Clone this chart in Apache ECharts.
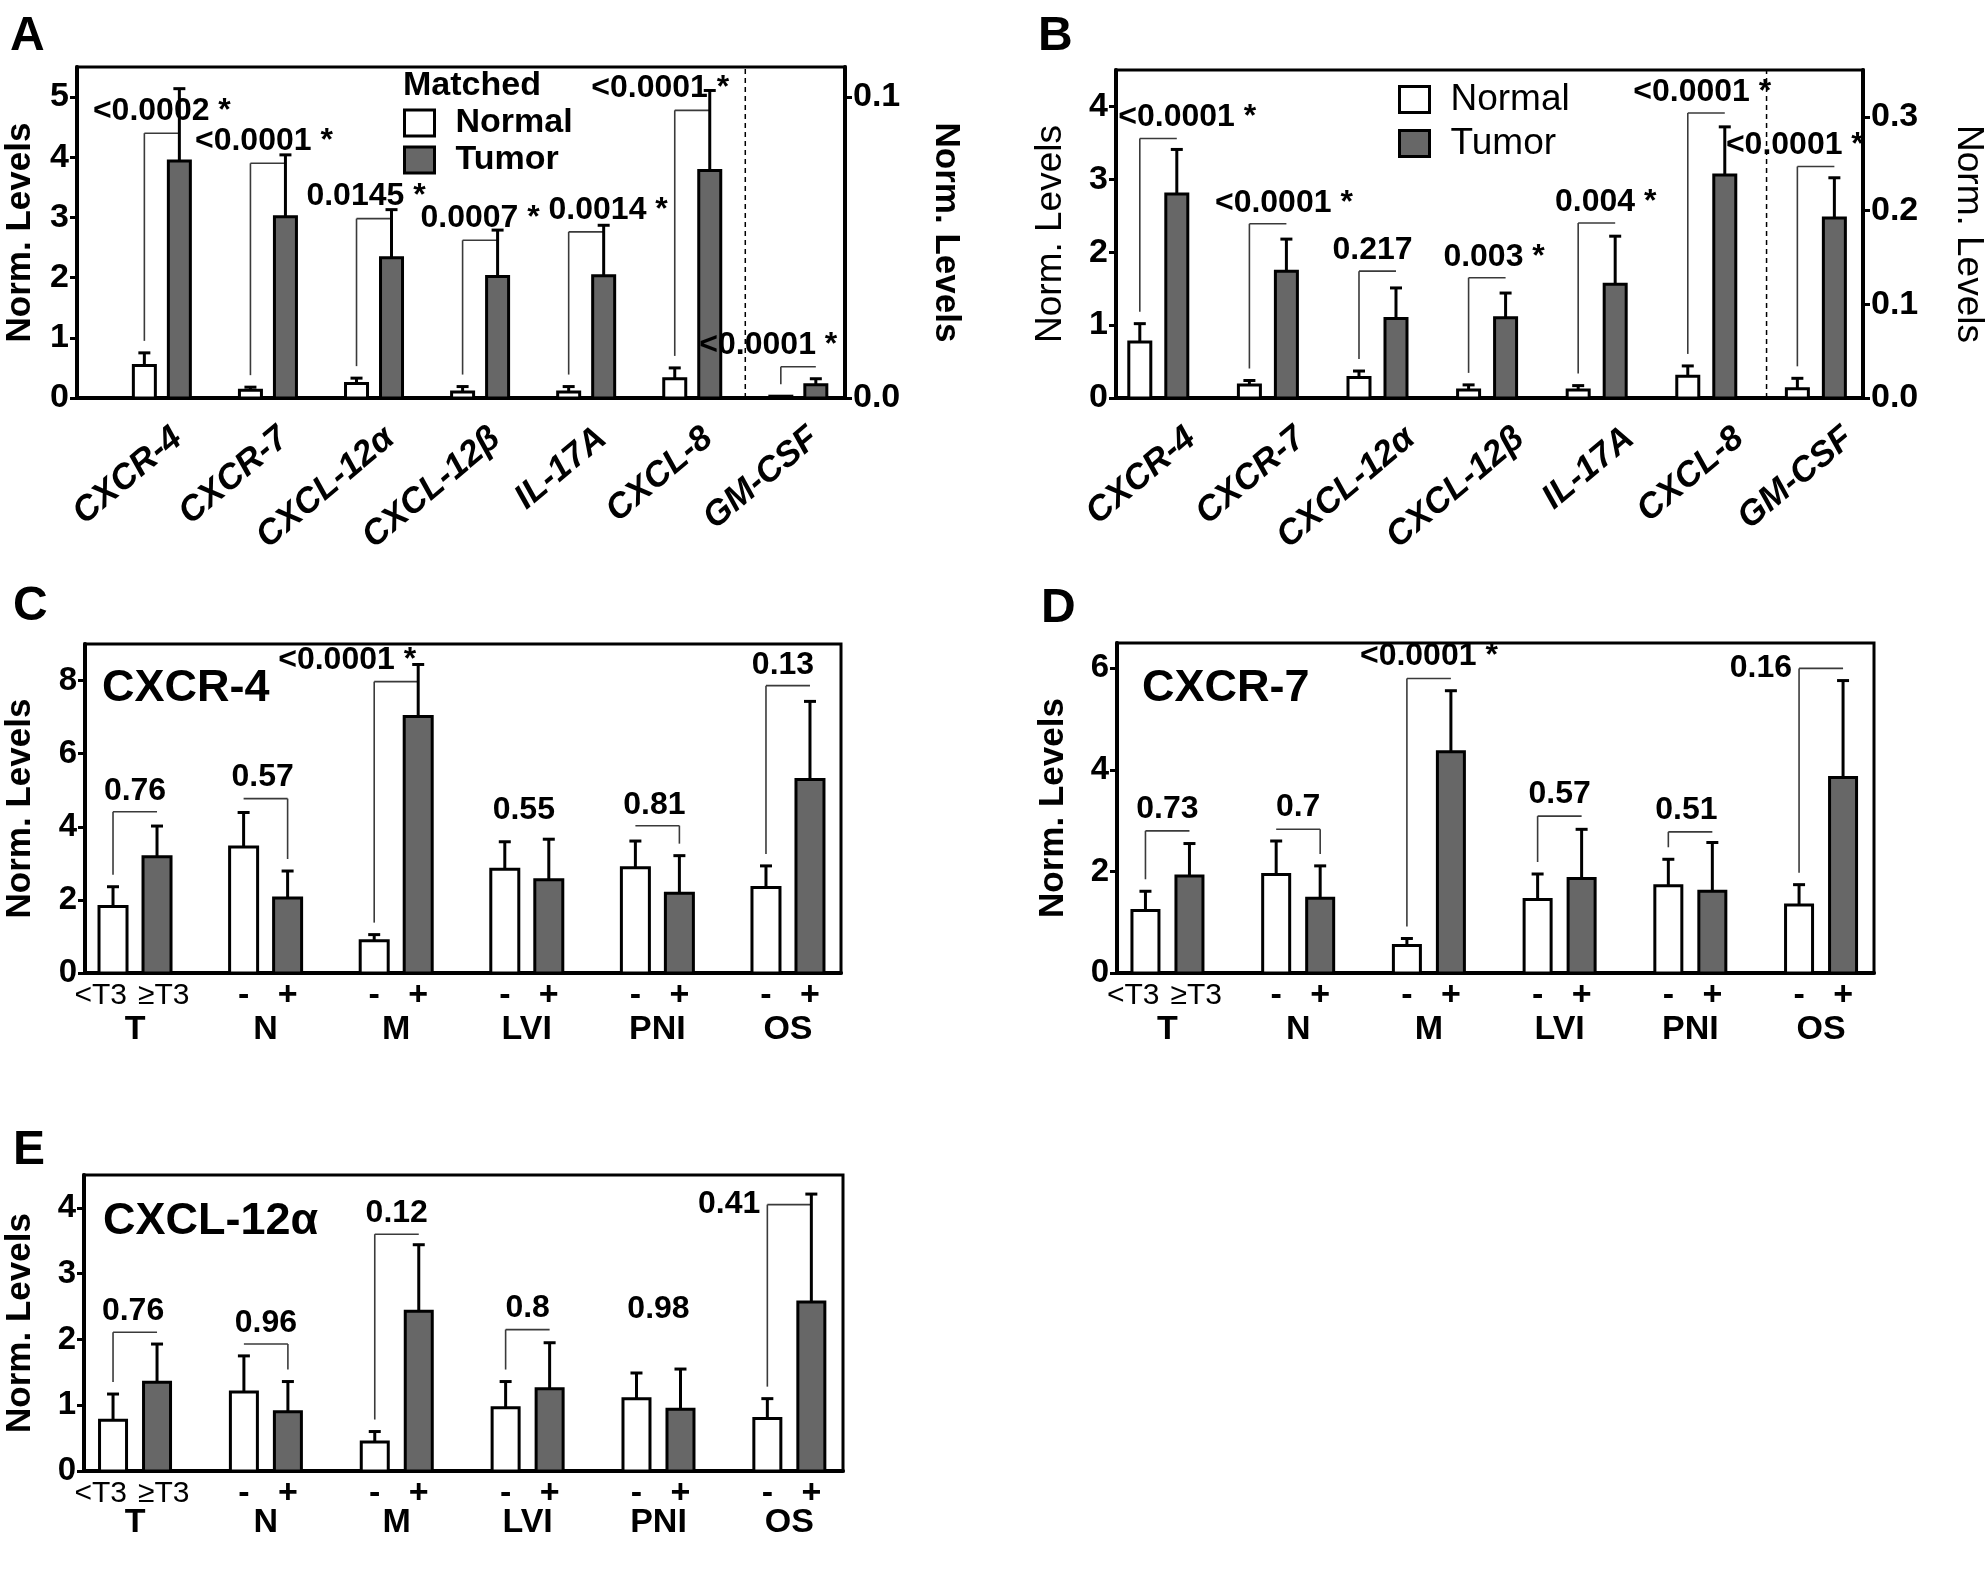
<!DOCTYPE html>
<html>
<head>
<meta charset="utf-8">
<script src="https://cdn.jsdelivr.net/npm/echarts@6/dist/echarts.min.js"></script>
<style>
html, body { margin: 0; padding: 0; background: #fff; }
#chart { width: 1988px; height: 1587px; }
</style>
</head>
<body>
<div id="chart"></div>
<script>
(function() {
  var FONT = '"Liberation Sans", Arial, Helvetica, sans-serif';
  var TUMOR_FILL = '#676767';

  // --- shared categories ---
  var abCats = ['CXCR-4', 'CXCR-7', 'CXCL-12α', 'CXCL-12β', 'IL-17A', 'CXCL-8', 'GM-CSF'];
  var cdeGroups = ['T', 'N', 'M', 'LVI', 'PNI', 'OS'];
  var cdeSubs = [['<T3', '≥T3'], ['-', '+'], ['-', '+'], ['-', '+'], ['-', '+'], ['-', '+']];

  // --- A: matched (GM-CSF on right axis) ---
  var aNormal = [0.54, 0.13, 0.24, 0.10, 0.10, 0.32, 0.0006];
  var aNormalSem = [0.21, 0.05, 0.09, 0.09, 0.09, 0.18, 0];
  var aTumor = [3.94, 3.01, 2.33, 2.02, 2.03, 3.78, 0.0044];
  var aTumorSem = [1.20, 1.03, 0.80, 0.77, 0.84, 1.33, 0.0020];
  var aBracket = [4.40, 3.90, 2.98, 2.62, 2.76, 4.78, 0.0104];
  var aP = ['<0.0002 *', '<0.0001 *', '0.0145 *', '0.0007 *', '0.0014 *', '<0.0001 *', '<0.0001 *'];

  // --- B: all (GM-CSF on right axis) ---
  var bNormal = [0.77, 0.18, 0.28, 0.11, 0.11, 0.30, 0.010];
  var bNormalSem = [0.25, 0.06, 0.09, 0.07, 0.06, 0.14, 0.011];
  var bTumor = [2.80, 1.74, 1.09, 1.10, 1.56, 3.06, 0.192];
  var bTumorSem = [0.61, 0.44, 0.42, 0.34, 0.66, 0.66, 0.043];
  var bBracket = [3.56, 2.39, 1.74, 1.65, 2.40, 3.91, 0.247];
  var bP = ['<0.0001 *', '<0.0001 *', '0.217', '0.003 *', '0.004 *', '<0.0001 *', '<0.0001 *'];

  // --- C: CXCR-4 ---
  var cNormal = [1.82, 3.45, 0.88, 2.84, 2.88, 2.34];
  var cNormalSem = [0.54, 0.94, 0.17, 0.75, 0.73, 0.59];
  var cTumor = [3.18, 2.05, 7.02, 2.55, 2.18, 5.29];
  var cTumorSem = [0.84, 0.74, 1.42, 1.11, 1.03, 2.14];
  var cBracket = [4.41, 4.77, 7.97, 3.89, 4.03, 7.86];
  var cP = ['0.76', '0.57', '<0.0001 *', '0.55', '0.81', '0.13'];

  // --- D: CXCR-7 ---
  var dNormal = [1.23, 1.94, 0.54, 1.45, 1.72, 1.34];
  var dNormalSem = [0.38, 0.66, 0.14, 0.50, 0.52, 0.40];
  var dTumor = [1.91, 1.47, 4.36, 1.86, 1.61, 3.85];
  var dTumorSem = [0.64, 0.64, 1.20, 0.97, 0.96, 1.91];
  var dBracket = [2.80, 2.83, 5.80, 3.09, 2.78, 6.00];
  var dP = ['0.73', '0.7', '<0.0001 *', '0.57', '0.51', '0.16'];

  // --- E: CXCL-12α ---
  var eNormal = [0.77, 1.20, 0.44, 0.96, 1.10, 0.80];
  var eNormalSem = [0.40, 0.55, 0.16, 0.40, 0.39, 0.30];
  var eTumor = [1.35, 0.90, 2.43, 1.25, 0.94, 2.57];
  var eTumorSem = [0.58, 0.46, 1.01, 0.70, 0.61, 1.64];
  var eBracket = [2.11, 1.93, 3.60, 2.15, 2.14, 4.05];
  var eP = ['0.76', '0.96', '0.12', '0.8', '0.98', '0.41'];

  // panel layout (leg: which side the bracket drops to, '-' = label only)
  var panels = [
    { xi: 0, yl: 0, yr: 1, normal: aNormal, nSem: aNormalSem, tumor: aTumor, tSem: aTumorSem,
      bracket: aBracket, p: aP, leg: ['L', 'L', 'L', 'L', 'L', 'L', 'L'],
      dx: [0, -4, -8, 0, 22, -32, -30], rightFrom: 6, dodge: 17.5, barW: 22,
      pFont: 'bold 32px ' + FONT, lift: 22, yMax: 5.5, dashAt: 5.5 },
    { xi: 1, yl: 2, yr: 3, normal: bNormal, nSem: bNormalSem, tumor: bTumor, tSem: bTumorSem,
      bracket: bBracket, p: bP, leg: ['L', 'L', 'L', 'L', 'L', 'L', 'L'],
      dx: [29, 16, -5, 7, 9, -4, -21], rightFrom: 6, dodge: 18.5, barW: 22,
      pFont: 'bold 32px ' + FONT, lift: 21, yMax: 4.5, dashAt: 5.55 },
    { xi: 2, yl: 4, normal: cNormal, nSem: cNormalSem, tumor: cTumor, tSem: cTumorSem,
      bracket: cBracket, p: cP, leg: ['L', 'R', 'L', '-', 'R', 'L'],
      dx: [0, -3, -49, -3, -3, -5], dodge: 22, barW: 28, subs: cdeSubs,
      pFont: 'bold 32px ' + FONT, lift: 21 },
    { xi: 3, yl: 5, normal: dNormal, nSem: dNormalSem, tumor: dTumor, tSem: dTumorSem,
      bracket: dBracket, p: dP, leg: ['L', 'R', 'L', 'L', 'L', 'L'],
      dx: [0, 0, 0, 0, -4, 'side'], dodge: 22, barW: 27, subs: cdeSubs,
      pFont: 'bold 32px ' + FONT, lift: 22 },
    { xi: 4, yl: 6, normal: eNormal, nSem: eNormalSem, tumor: eTumor, tSem: eTumorSem,
      bracket: eBracket, p: eP, leg: ['L', 'R', 'L', 'L', '-', 'L'],
      dx: [-2, 0, 0, 0, 0, 'side'], dodge: 22, barW: 27, subs: cdeSubs,
      pFont: 'bold 32px ' + FONT, lift: 21 }
  ];

  function ln(x1, y1, x2, y2, w, color, dash) {
    return { type: 'line', shape: { x1: x1, y1: y1, x2: x2, y2: y2 },
      style: { stroke: color || '#000', lineWidth: w, lineDash: dash || null } };
  }
  function txt(x, y, text, font, align) {
    return { type: 'text', x: x, y: y,
      style: { text: text, font: font, fill: '#000', align: align || 'center', verticalAlign: 'middle' } };
  }

  function barSeries(p, side, name, yIndex, idxs) {
    var vals = side < 0 ? p.normal : p.tumor;
    var sems = side < 0 ? p.nSem : p.tSem;
    return {
      type: 'custom', name: name, xAxisIndex: p.xi, yAxisIndex: yIndex, clip: false,
      itemStyle: { color: side < 0 ? '#fff' : TUMOR_FILL },
      data: idxs.map(function(i) { return [i, vals[i], sems[i]]; }),
      renderItem: function(params, api) {
        var g = api.value(0), v = api.value(1), s = api.value(2);
        var base = api.coord([g, 0]);
        var top = api.coord([g, v]);
        var et = api.coord([g, v + s]);
        var cx = base[0] + side * p.dodge;
        var kids = [];
        if (s > 0) {
          kids.push(ln(cx, top[1], cx, et[1], 3));
          kids.push(ln(cx - 6, et[1], cx + 6, et[1], 3));
        }
        kids.push({ type: 'rect',
          shape: { x: cx - p.barW / 2, y: top[1], width: p.barW, height: Math.max(base[1] - top[1], 1) },
          style: { fill: side < 0 ? '#fff' : TUMOR_FILL, stroke: '#000', lineWidth: 3 } });
        if (p.subs) {
          var lab = p.subs[g][side < 0 ? 0 : 1];
          if (lab.length > 1) {
            // tumour stage labels sit a little outward of the bars
            kids.push(txt(side < 0 ? cx + 14 : cx - 19, base[1] + 23, lab, '30px ' + FONT, side < 0 ? 'right' : 'left'));
          } else {
            kids.push(txt(cx, base[1] + 23, lab, 'bold 34px ' + FONT));
          }
        }
        return { type: 'group', children: kids };
      }
    };
  }

  function bracketSeries(p, yIndex, idxs) {
    return {
      type: 'custom', xAxisIndex: p.xi, yAxisIndex: yIndex, clip: false, silent: true,
      data: idxs.map(function(i) { return [i, p.bracket[i]]; }),
      renderItem: function(params, api) {
        var i = api.value(0);
        var base = api.coord([i, 0]);
        var y = api.coord([i, api.value(1)])[1];
        var x1 = base[0] - p.dodge, x2 = base[0] + p.dodge;
        var kids = [];
        var side = p.leg[i];
        if (side !== '-') {
          kids.push(ln(x1, y, x2, y, 1.6, '#3a3a3a'));
          var errTop = side === 'L' ? p.normal[i] + p.nSem[i] : p.tumor[i] + p.tSem[i];
          var ly = api.coord([i, errTop])[1] - 12;
          var lx = side === 'L' ? x1 : x2;
          kids.push(ln(lx, y, lx, ly, 1.6, '#3a3a3a'));
        }
        if (p.dx[i] === 'side') {
          kids.push(txt(x1 - 7, y, p.p[i], p.pFont, 'right'));
        } else {
          kids.push(txt((x1 + x2) / 2 + p.dx[i], y - p.lift, p.p[i], p.pFont));
        }
        if (p.dashAt != null && i === 5) {
          var dx = api.coord([p.dashAt, 0])[0];
          var dTop = api.coord([p.dashAt, p.yMax])[1];
          kids.push(ln(dx, base[1], dx, dTop, 1.5, '#000', [5, 4]));
        }
        return { type: 'group', children: kids };
      }
    };
  }

  var series = [];
  panels.forEach(function(p) {
    var left = [], right = [];
    p.normal.forEach(function(v, i) {
      (p.rightFrom != null && i >= p.rightFrom ? right : left).push(i);
    });
    [[left, p.yl], [right, p.yr]].forEach(function(pair) {
      if (!pair[0].length) return;
      series.push(bracketSeries(p, pair[1], pair[0]));
      series.push(barSeries(p, -1, 'Normal', pair[1], pair[0]));
      series.push(barSeries(p, 1, 'Tumor', pair[1], pair[0]));
    });
  });

  var gridStyle = { show: true, borderColor: '#000', borderWidth: 3 };
  var grids = [
    Object.assign({ left: 77, top: 67, width: 768, height: 331 }, gridStyle),
    Object.assign({ left: 1116, top: 70, width: 749, height: 328 }, gridStyle),
    Object.assign({ left: 85, top: 644, width: 756, height: 329 }, gridStyle),
    Object.assign({ left: 1117, top: 643, width: 757, height: 330 }, gridStyle),
    Object.assign({ left: 84, top: 1175, width: 759, height: 296 }, gridStyle)
  ];

  function xAxis(gi, min, max, label) {
    return {
      type: 'value', gridIndex: gi, min: min, max: max,
      axisLine: { show: true, onZero: false, lineStyle: { color: '#000', width: 4 } },
      axisTick: { show: false }, splitLine: { show: false }, axisLabel: label
    };
  }
  function rotLabels(shift) {
    return {
      customValues: abCats.map(function(c, i) { return i + shift; }),
      formatter: function(v) { return abCats[Math.round(v - shift)]; },
      rotate: 40, margin: 36, color: '#000', fontFamily: FONT,
      fontSize: 35, fontWeight: 'bold', fontStyle: 'italic'
    };
  }
  function groupLabels(margin) {
    return {
      customValues: [0, 1, 2, 3, 4, 5],
      formatter: function(v) { return cdeGroups[Math.round(v)]; },
      margin: margin, color: '#000', fontFamily: FONT, fontSize: 34, fontWeight: 'bold'
    };
  }
  function yAxis(gi, max, ticks, pos, opts) {
    return {
      type: 'value', gridIndex: gi, min: 0, max: max, position: pos,
      axisLine: { show: true, onZero: false, lineStyle: { color: '#000', width: 4 } },
      axisTick: { show: true, length: 7, customValues: ticks, lineStyle: { color: '#000', width: 3 } },
      axisLabel: { customValues: ticks, margin: 8, color: '#000', fontFamily: FONT,
        fontSize: opts.tickSize, fontWeight: 'bold',
        formatter: function(v) { return opts.dec ? v.toFixed(1) : String(v); } },
      splitLine: { show: false },
      name: 'Norm. Levels', nameLocation: 'middle', nameGap: opts.gap,
      nameRotate: pos === 'right' ? -90 : null,
      nameTextStyle: { color: '#000', fontFamily: FONT, fontSize: opts.nameSize, fontWeight: opts.nameWeight }
    };
  }

  var legendBase = {
    orient: 'vertical', padding: 0, itemWidth: 30, itemHeight: 26, icon: 'rect', selectedMode: false,
    data: [
      { name: 'Normal', itemStyle: { color: '#fff', borderColor: '#000', borderWidth: 3 } },
      { name: 'Tumor', itemStyle: { color: TUMOR_FILL, borderColor: '#000', borderWidth: 3 } }
    ]
  };

  var chart = echarts.init(document.getElementById('chart'), null, { renderer: 'canvas' });
  chart.setOption({
    animation: false,
    backgroundColor: '#fff',
    grid: grids,
    xAxis: [
      xAxis(0, -0.8, 6.44, rotLabels(0.15)),
      xAxis(1, -0.386, 6.43, rotLabels(0.3)),
      xAxis(2, -0.383, 5.406, groupLabels(40)),
      xAxis(3, -0.386, 5.405, groupLabels(40)),
      xAxis(4, -0.39, 5.41, groupLabels(35))
    ],
    yAxis: [
      yAxis(0, 5.5, [0, 1, 2, 3, 4, 5], 'left', { tickSize: 34, gap: 39, nameSize: 35, nameWeight: 'bold' }),
      yAxis(0, 0.11, [0, 0.1], 'right', { tickSize: 34, gap: 83, nameSize: 35, nameWeight: 'bold', dec: true }),
      yAxis(1, 4.5, [0, 1, 2, 3, 4], 'left', { tickSize: 34, gap: 47, nameSize: 37, nameWeight: 'normal' }),
      yAxis(1, 0.35, [0, 0.1, 0.2, 0.3], 'right', { tickSize: 34, gap: 87, nameSize: 37, nameWeight: 'normal', dec: true }),
      yAxis(2, 9, [0, 2, 4, 6, 8], 'left', { tickSize: 33, gap: 47, nameSize: 35, nameWeight: 'bold' }),
      yAxis(3, 6.5, [0, 2, 4, 6], 'left', { tickSize: 33, gap: 46, nameSize: 35, nameWeight: 'bold' }),
      yAxis(4, 4.5, [0, 1, 2, 3, 4], 'left', { tickSize: 33, gap: 46, nameSize: 35, nameWeight: 'bold' })
    ],
    legend: [
      Object.assign({ left: 403, top: 106, itemGap: 3,
        textStyle: { color: '#000', fontFamily: FONT, fontSize: 34, fontWeight: 'bold', padding: [0, 0, 0, 16] } }, legendBase),
      Object.assign({ left: 1398, top: 81, itemGap: 7,
        textStyle: { color: '#000', fontFamily: FONT, fontSize: 37, fontWeight: 'normal', padding: [0, 0, 0, 16] } }, legendBase)
    ],
    graphic: [
      txt(10, 37, 'A', 'bold 48px ' + FONT, 'left'),
      txt(1038, 37, 'B', 'bold 48px ' + FONT, 'left'),
      txt(13, 607, 'C', 'bold 48px ' + FONT, 'left'),
      txt(1041, 609, 'D', 'bold 48px ' + FONT, 'left'),
      txt(13, 1151, 'E', 'bold 48px ' + FONT, 'left'),
      txt(403, 86, 'Matched', 'bold 34px ' + FONT, 'left'),
      txt(102, 689, 'CXCR-4', 'bold 45px ' + FONT, 'left'),
      txt(1142, 689, 'CXCR-7', 'bold 45px ' + FONT, 'left'),
      txt(103, 1222, 'CXCL-12α', 'bold 45px ' + FONT, 'left')
    ],
    series: series
  });
})();
</script>
</body>
</html>
